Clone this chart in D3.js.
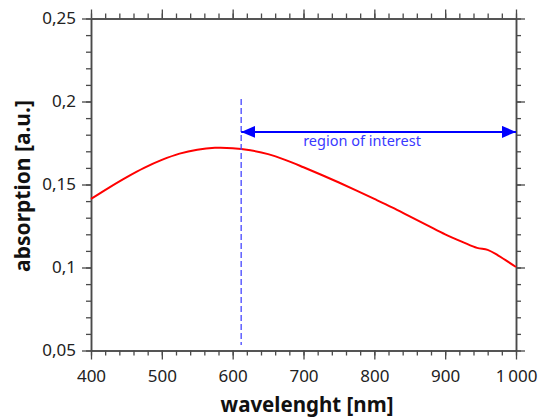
<!DOCTYPE html>
<html><head><meta charset="utf-8">
<script src="https://cdn.jsdelivr.net/npm/d3@7"></script>
<style>
html,body{margin:0;padding:0;background:#fff;}
svg{display:block;}
text{font-family:"Noto Sans",sans-serif;}
</style></head>
<body><svg id="chart" width="539" height="420"></svg>
<script>
// ---- data ----
const wavelengths = [400,425,450,475,500,525,550,575,600,625,650,675,700,725,750,775,800,825,850,875,900,925,945,960,975,1000];
const absorption  = [0.1413,0.1480,0.1543,0.1600,0.1648,0.1686,0.1710,0.1721,0.1719,0.1706,0.1683,0.1647,0.1604,0.1559,0.1512,0.1463,0.1413,0.1362,0.1308,0.1254,0.1200,0.1153,0.1118,0.1106,0.1072,0.1003];
const xMajorTicks = [400,500,600,700,800,900,1000];
const xTickLabels = ["400","500","600","700","800","900","1\u202F000"];
const xMinorTicks = d3.range(400,1001,20);
const yMajorTicks = [0.05,0.1,0.15,0.2,0.25];
const yTickLabels = ["0,05","0,1","0,15","0,2","0,25"];
const yMinorTicks = d3.range(5,26).map(d=>d/100);
const markerWavelength = 612;
const regionRange = [612,1000];
const regionLevel = 0.1817;
const regionLabel = "region of interest";
const xTitle = "wavelenght [nm]";
const yTitle = "absorption [a.u.]";

// ---- layout ----
const svg = d3.select("#chart");
const L=91, R=516, T=18.5, B=350.5;
const x = d3.scaleLinear().domain([400,1000]).range([L,R]);
const y = d3.scaleLinear().domain([0.05,0.25]).range([B,T]);
const axisColor = "#4a4a4a";

function styleAxis(g){
  g.selectAll("path.domain").attr("stroke",axisColor).attr("stroke-width",1.5);
  g.selectAll(".tick line").attr("stroke",axisColor).attr("stroke-width",1.3);
  g.selectAll(".tick text").attr("fill","#222").style("font-size","17px").style("font-family","Noto Sans");
}
const xLabelFmt = d => xTickLabels[xMajorTicks.indexOf(d)];
const yLabelFmt = d => yTickLabels[yMajorTicks.findIndex(v=>Math.abs(v-d)<1e-9)];

// minor ticks
svg.append("g").attr("transform",`translate(0,${B})`)
  .call(d3.axisBottom(x).tickValues(xMinorTicks).tickSize(5).tickSizeOuter(0).tickFormat("")).call(styleAxis);
svg.append("g").attr("transform",`translate(0,${T})`)
  .call(d3.axisTop(x).tickValues(xMinorTicks).tickSize(5).tickSizeOuter(0).tickFormat("")).call(styleAxis);
svg.append("g").attr("transform",`translate(${L},0)`)
  .call(d3.axisLeft(y).tickValues(yMinorTicks).tickSize(5).tickSizeOuter(0).tickFormat("")).call(styleAxis);
svg.append("g").attr("transform",`translate(${R},0)`)
  .call(d3.axisRight(y).tickValues(yMinorTicks).tickSize(5).tickSizeOuter(0).tickFormat("")).call(styleAxis);
// major ticks
svg.append("g").attr("transform",`translate(0,${B})`)
  .call(d3.axisBottom(x).tickValues(xMajorTicks).tickSize(9).tickSizeOuter(0).tickPadding(10).tickFormat(xLabelFmt)).call(styleAxis);
svg.append("g").attr("transform",`translate(0,${T})`)
  .call(d3.axisTop(x).tickValues(xMajorTicks).tickSize(9).tickSizeOuter(0).tickFormat("")).call(styleAxis);
svg.append("g").attr("transform",`translate(${L},0)`)
  .call(d3.axisLeft(y).tickValues(yMajorTicks).tickSize(9).tickSizeOuter(0).tickPadding(6).tickFormat(yLabelFmt)).call(styleAxis);
svg.append("g").attr("transform",`translate(${R},0)`)
  .call(d3.axisRight(y).tickValues(yMajorTicks).tickSize(9).tickSizeOuter(0).tickFormat("")).call(styleAxis);

// curve
const line = d3.line().x((d,i)=>x(wavelengths[i])).y(d=>y(d)).curve(d3.curveCatmullRom);
svg.append("path").datum(absorption).attr("d",line)
  .attr("fill","none").attr("stroke","#ff0000").attr("stroke-width",2);

// dashed marker
svg.append("line").attr("x1",x(markerWavelength)).attr("x2",x(markerWavelength))
  .attr("y1",99).attr("y2",345)
  .attr("stroke","#4646ff").attr("stroke-width",1.3).attr("stroke-dasharray","6,3");

// double arrow
const defs = svg.append("defs");
["start","end"].forEach(k=>{
  defs.append("marker").attr("id","arr-"+k).attr("viewBox","0 0 14 12")
    .attr("refX",k==="end"?14:0).attr("refY",6).attr("markerWidth",14).attr("markerHeight",12)
    .attr("markerUnits","userSpaceOnUse").attr("orient","auto")
    .append("path").attr("d",k==="end"?"M0,0L14,6L0,12Z":"M14,0L0,6L14,12Z").attr("fill","#0000ff");
});
svg.append("line").attr("x1",x(regionRange[0])).attr("x2",x(regionRange[1]))
  .attr("y1",y(regionLevel)).attr("y2",y(regionLevel))
  .attr("stroke","#0000ff").attr("stroke-width",2)
  .attr("marker-start","url(#arr-start)").attr("marker-end","url(#arr-end)");
svg.append("text").attr("x",362).attr("y",y(regionLevel)+14).attr("text-anchor","middle")
  .attr("fill","#3a3aff").style("font-size","14.5px").text(regionLabel);

// titles
svg.append("text").attr("x",307).attr("y",412).attr("text-anchor","middle")
  .attr("fill","#111").style("font-size","20.5px").style("font-weight","bold").text(xTitle);
svg.append("text").attr("transform","translate(30,186) rotate(-90)").attr("text-anchor","middle")
  .attr("fill","#111").style("font-size","21px").style("font-weight","bold").text(yTitle);
</script></body></html>
